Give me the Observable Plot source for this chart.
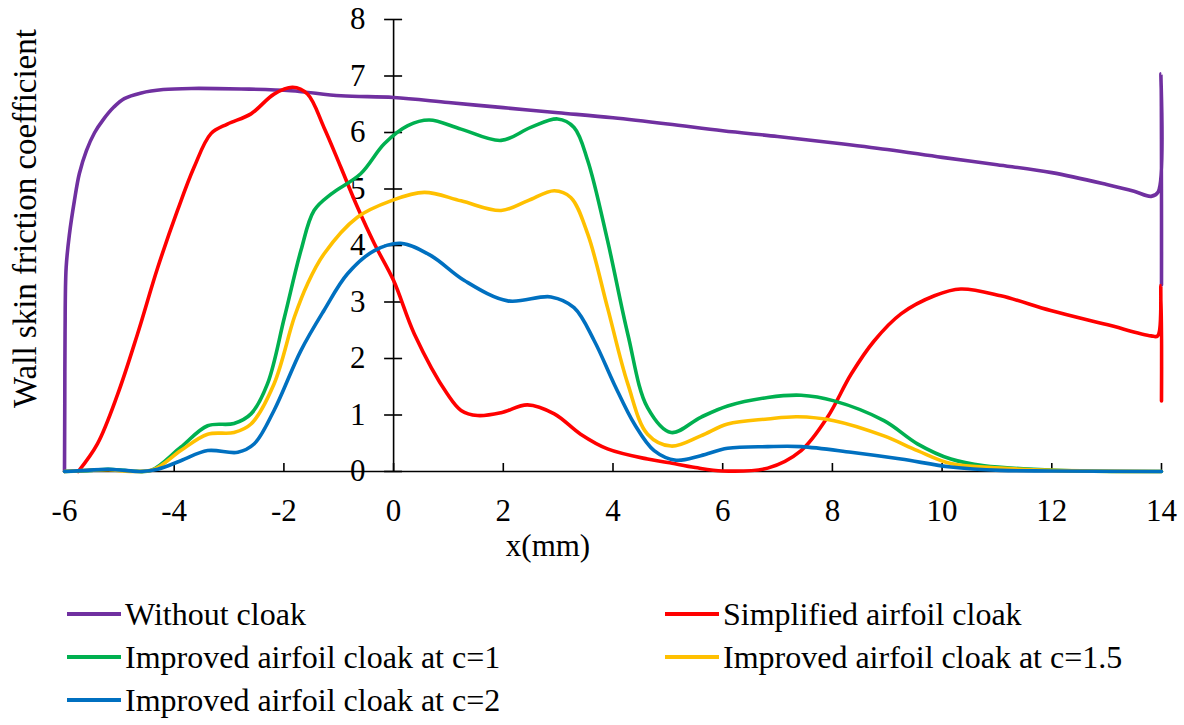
<!DOCTYPE html>
<html><head><meta charset="utf-8">
<script src="https://cdn.jsdelivr.net/npm/d3@7"></script>
<script src="https://cdn.jsdelivr.net/npm/@observablehq/plot@0.6"></script>
<style>
body{margin:0;background:#fff;font-family:"Liberation Serif","Times New Roman",serif;}
#chart svg{display:block}
#legend{position:relative;width:1184px;height:145px;font-size:32px;color:#000;}
.item{position:absolute;display:flex;align-items:center;height:43px;white-space:nowrap;}
.sw{width:54px;height:4px;margin-right:4px;}
</style></head><body>
<div id="chart"></div><div id="legend"></div>
<script>
const seriesNames = ["Without cloak","Simplified airfoil cloak","Improved airfoil cloak at c=1","Improved airfoil cloak at c=1.5","Improved airfoil cloak at c=2"];
const seriesColors = ["#7030A0","#FF0000","#00B050","#FFC000","#0070C0"];
const xTicks = [-6,-4,-2,0,2,4,6,8,10,12,14];
const yTicks = [0,1,2,3,4,5,6,7,8];

const withoutCloakX = [-6,-5.995,-5.99,-5.97,-5.91,-5.82,-5.73,-5.6,-5.45,-5.3,-5.1,-4.91,-4.6,-4.2,-3.69,-2.78,-1.87,-0.96,0,1,2,3,4,5,6,7,8,9,10,11,12,13,13.5,13.81,13.94,13.99,14];
const withoutCloakY = [0,1.2,2.43,3.61,4.2,4.79,5.27,5.68,6.0,6.22,6.45,6.6,6.7,6.76,6.78,6.77,6.74,6.65,6.62,6.53,6.44,6.35,6.26,6.15,6.03,5.93,5.82,5.70,5.56,5.43,5.29,5.08,4.96,4.87,4.95,7.04,3.3];

const simplifiedX = [-5.75,-5.40,-5.03,-4.67,-4.30,-3.94,-3.64,-3.33,-3.03,-2.60,-2.18,-1.84,-1.57,-1.27,-0.96,-0.66,-0.35,0,0.38,0.98,1.23,1.53,1.96,2.44,2.93,3.41,3.90,4.63,5.0,5.5,6.0,6.82,7.43,7.91,8.34,8.76,9.25,9.86,10.34,11.07,11.98,13.0,13.81,13.93,13.99,14];
const simplifiedY = [0,0.49,1.37,2.43,3.61,4.62,5.38,5.98,6.15,6.33,6.68,6.80,6.68,6.09,5.38,4.68,4.03,3.38,2.43,1.37,1.08,0.99,1.04,1.18,1.02,0.66,0.40,0.22,0.16,0.07,0.01,0.06,0.37,0.96,1.72,2.31,2.79,3.11,3.23,3.11,2.85,2.60,2.40,2.40,3.29,1.25];

const improved1X = [-6,-5.5,-5.2,-4.8,-4.42,-3.88,-3.39,-2.91,-2.60,-2.30,-1.99,-1.69,-1.45,-1.14,-0.60,-0.17,0.26,0.65,1.23,1.96,2.50,2.99,3.29,3.54,3.90,4.27,4.63,5.06,5.60,6.09,6.82,7.43,8.03,8.94,9.55,10.16,10.77,11.67,12.5,14];
const improved1Y = [0,0.02,0.04,0.01,0.02,0.43,0.81,0.85,1.02,1.55,2.73,3.91,4.62,4.91,5.27,5.80,6.12,6.22,6.06,5.86,6.09,6.24,6.09,5.50,4.09,2.43,1.13,0.69,0.96,1.16,1.31,1.35,1.25,0.90,0.49,0.22,0.10,0.04,0.01,0];

const improved15X = [-6,-5.2,-4.8,-4.36,-3.88,-3.39,-2.91,-2.60,-2.18,-1.81,-1.57,-1.27,-0.66,-0.05,0.56,1.23,1.96,2.44,2.93,3.23,3.54,3.90,4.27,4.63,5.06,5.60,6.09,6.82,7.36,8.03,8.94,9.55,10.16,11.07,12,14];
const improved15Y = [0,0.03,0,0.04,0.37,0.66,0.69,0.84,1.55,2.73,3.32,3.85,4.50,4.79,4.94,4.79,4.62,4.79,4.97,4.85,4.20,2.90,1.55,0.66,0.45,0.63,0.84,0.93,0.97,0.90,0.63,0.37,0.14,0.06,0.02,0];

const improved2X = [-6,-5.6,-5.21,-4.9,-4.61,-4.3,-3.88,-3.39,-2.84,-2.54,-2.18,-1.69,-1.27,-0.84,-0.35,0.13,0.68,1.29,2.08,2.87,3.29,3.66,4.02,4.39,4.75,5.15,5.60,6.09,6.82,7.43,8.34,9.25,10.16,11.07,12,14];
const improved2Y = [0,0.02,0.04,0.02,0,0.04,0.19,0.37,0.34,0.49,1.08,2.14,2.85,3.50,3.91,4.04,3.82,3.38,3.02,3.09,2.90,2.31,1.55,0.84,0.37,0.20,0.28,0.41,0.44,0.44,0.34,0.22,0.08,0.02,0.01,0];

const seriesXs = [withoutCloakX, simplifiedX, improved1X, improved15X, improved2X];
const seriesYs = [withoutCloakY, simplifiedY, improved1Y, improved15Y, improved2Y];
const rows = [];
seriesNames.forEach((name, k) => seriesXs[k].forEach((x, i) => rows.push({series: name, x, y: seriesYs[k][i]})));

const plot = Plot.plot({
  width: 1184, height: 580,
  marginLeft: 64, marginRight: 23, marginTop: 19, marginBottom: 109,
  style: {fontFamily: "Liberation Serif, Times New Roman, serif", background: "white", overflow: "visible"},
  x: {domain: [-6, 14], axis: null},
  y: {domain: [0, 8], axis: null},
  color: {domain: seriesNames, range: seriesColors},
  marks: [
    Plot.text(xTicks, {x: d => d, y: 0, text: d => String(d), dy: 39.6, fontSize: 31, fill: "black"}),
    Plot.text(yTicks, {x: 0, y: d => d, text: d => String(d), dx: -28, textAnchor: "end", fontSize: 31, fill: "black"}),
    Plot.text(["Wall skin friction coefficient"], {frameAnchor: "left", textAnchor: "middle", lineAnchor: "middle", rotate: -90, dx: -39, dy: -27, fontSize: 33, fill: "black"}),
    Plot.text(["x(mm)"], {frameAnchor: "bottom", textAnchor: "middle", lineAnchor: "middle", dx: -65, dy: 74.4, fontSize: 31, fill: "black"}),
    Plot.ruleY([0], {stroke: "black", strokeWidth: 1.6}),
    Plot.ruleX([0], {stroke: "black", strokeWidth: 1.6}),
    Plot.ruleX(xTicks, {x: d => d, y1: 0, y2: 0, insetTop: -8, stroke: "black", strokeWidth: 1.6}),
    Plot.ruleY(yTicks, {y: d => d, x1: 0, x2: 0, insetLeft: -9, insetRight: -9, stroke: "black", strokeWidth: 1.6}),
    ...seriesNames.map(name => Plot.line(rows.filter(r => r.series === name), {
      x: "x", y: "y", stroke: "series", strokeWidth: 3.6, curve: "catmull-rom", strokeLinejoin: "round", strokeLinecap: "round"
    }))
  ]
});
document.getElementById("chart").appendChild(plot);

const legend = document.getElementById("legend");
const layout = [[67, 12.5], [665, 12.5], [67, 55.5], [665, 55.5], [67, 98.5]];
seriesNames.forEach((name, k) => {
  const it = document.createElement("div");
  it.className = "item";
  it.style.left = layout[k][0] + "px";
  it.style.top = layout[k][1] + "px";
  const sw = document.createElement("span");
  sw.className = "sw"; sw.style.background = seriesColors[k];
  const tx = document.createElement("span");
  tx.textContent = name;
  it.appendChild(sw); it.appendChild(tx);
  legend.appendChild(it);
});
</script>
</body></html>
